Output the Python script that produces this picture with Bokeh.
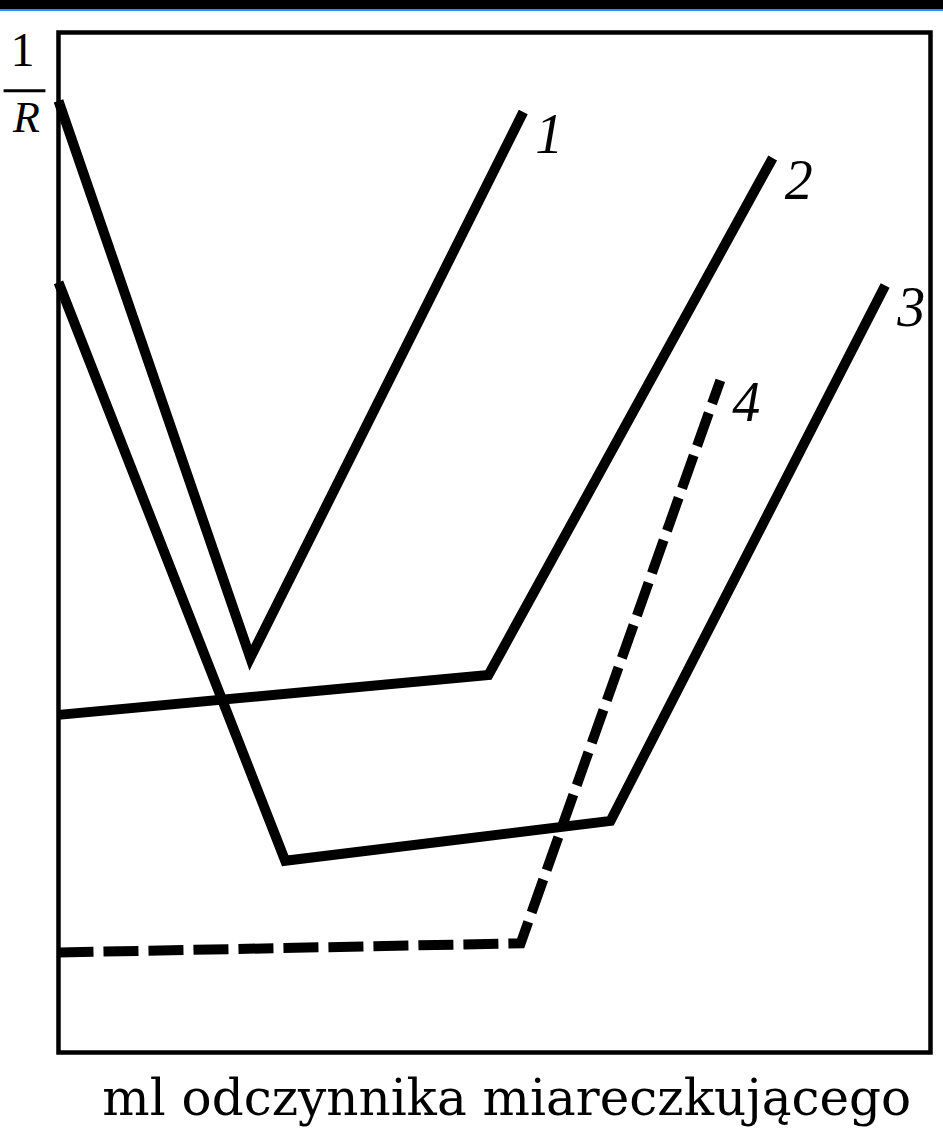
from bokeh.plotting import figure
from bokeh.models import Range1d, Div, ColumnDataSource
from bokeh.layouts import column
from bokeh.core.properties import value
from bokeh.embed import file_html
from bokeh.resources import INLINE

# Conductometric titration curves: 1/R against ml of titrant (arbitrary units)
x1 = [0.0, 2.20, 5.33]
y1 = [9.33, 3.87, 9.22]

x2 = [0.0, 4.93, 8.19]
y2 = [3.31, 3.70, 8.77]

x3 = [0.0, 2.60, 6.33, 9.48]
y3 = [7.55, 1.88, 2.27, 7.52]

x4 = [0.0, 5.30, 7.59]
y4 = [0.98, 1.07, 6.59]

curve_names = ["1", "2", "3", "4"]
x_label = "ml odczynnika miareczkującego"

# plotting box in data units
X_MIN, X_MAX = 0.0, 10.0
Y_MIN, Y_MAX = 0.0, 10.0

SERIF = "Liberation Serif"

# the canvas itself is the frame; the box and the captions are drawn inside it
p = figure(
    width=943, height=1119,
    x_range=Range1d(-0.665, 10.149), y_range=Range1d(-0.765, 10.206),
    x_axis_location=None, y_axis_location=None,
    output_backend="svg", toolbar_location=None,
    min_border=0,
)
p.grid.visible = False
p.outline_line_color = None
p.background_fill_color = "white"
p.border_fill_color = "white"

# box around the curves
p.quad(left=[X_MIN], right=[X_MAX], bottom=[Y_MIN], top=[Y_MAX],
       fill_color=None, line_color="black", line_width=4.5, line_join="miter")

line_kw = dict(line_color="black", line_width=10, line_join="miter", line_cap="butt")
p.line(x1, y1, **line_kw)
p.line(x2, y2, **line_kw)
p.line(x3, y3, **line_kw)
p.line(x4, y4, line_dash="35 10", **line_kw)

# curve numbers next to each curve's end point
ends = ColumnDataSource(dict(
    x=[x1[-1], x2[-1], x3[-1], x4[-1]],
    y=[y1[-1], y2[-1], y3[-1], y4[-1]],
    name=curve_names,
))
p.text(x="x", y="y", text="name", source=ends,
       x_offset=12, y_offset=22,
       text_font=value(SERIF), text_font_style="italic",
       text_font_size="56px", text_color="black",
       text_align="left", text_baseline="alphabetic")

# y quantity written as the fraction 1/R
p.text(x=[-0.413], y=[9.63], text=["1"], text_font=value(SERIF),
       y_offset=-20,
       text_font_size="48px", text_color="black",
       text_align="center", text_baseline="alphabetic")
p.segment(x0=[-0.63], y0=[9.43], x1=[-0.15], y1=[9.43],
          line_color="black", line_width=3)
p.text(x=[-0.367], y=[9.02], text=["R"], text_font=value(SERIF),
       y_offset=-15,
       text_font_style="italic", text_font_size="44px", text_color="black",
       text_align="center", text_baseline="alphabetic")

# x quantity below the box
p.text(x=[5.14], y=[-0.637], text=[x_label], text_font=value("DejaVu Serif"),
       y_offset=-19,
       text_font_size="50px", text_color="black",
       text_align="center", text_baseline="alphabetic")

band = Div(text="", width=943, height=11, margin=0,
           styles={"background-color": "black",
                   "border-bottom": "2px solid #2a8cff",
                   "box-sizing": "border-box"})

layout = column(band, p, spacing=0)
open("out.html", "w").write(file_html(layout, INLINE))
